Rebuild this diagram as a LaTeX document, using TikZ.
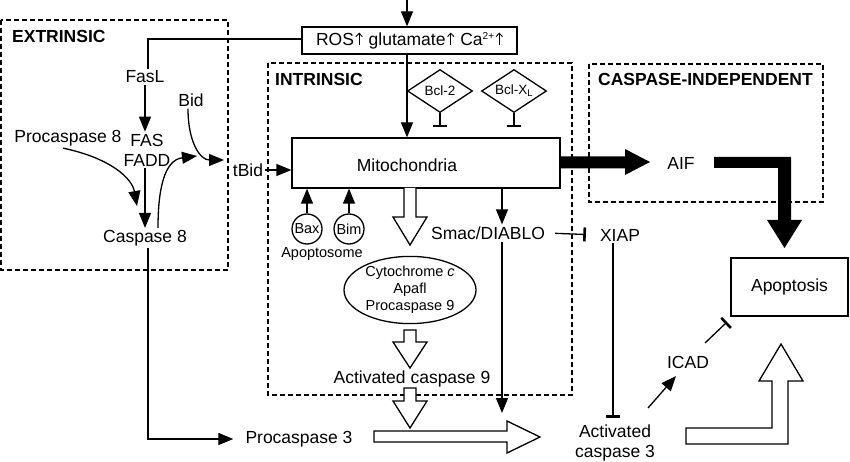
\documentclass[tikz,border=0pt]{standalone}
\usepackage{fontspec}
\setmainfont{Liberation Sans}
\usetikzlibrary{arrows.meta,shapes.geometric}
\newcommand\uparr{\hspace{1.5pt}\tikz[baseline=0pt,x=1pt,y=1pt]\draw[line width=0.9pt,-{Straight Barb[length=3.5pt,width=6.5pt,line width=0.9pt]}] (0,0) -- (0,12.8);\hspace{1pt}}
\begin{document}
\begin{tikzpicture}[x=1pt,y=-1pt,
  every node/.style={font=\fontsize{17.5}{20}\selectfont, inner sep=2pt},
  sm/.style={font=\fontsize{14.5}{17}\selectfont},
  ln/.style={line width=1.3pt},
  arr/.style={ln,-{Triangle[length=15pt,width=12pt]}},
  inh/.style={ln,-{Bar[width=14pt,line width=2.6pt]}},
  dbox/.style={line width=1.2pt, dash pattern=on 5pt off 3pt},
  box/.style={draw, line width=1.3pt, rectangle},
  hollow/.style={draw, line width=1.3pt, fill=white, line join=miter},
  dia/.style={draw, line width=1.3pt, diamond, aspect=1.5, minimum width=65pt, minimum height=43pt, inner sep=0pt, font=\fontsize{13.5}{16}\selectfont},
  circ/.style={draw, line width=1.3pt, circle, minimum size=30pt, inner sep=0pt, sm},
  lab/.style={font=\bfseries\fontsize{17.5}{20}\selectfont, anchor=west}
]
\useasboundingbox (0,0) rectangle (850,462);

% dashed regions
\draw[dbox] (1,20) rectangle (228,270);
\node[lab] (extl) at (10,36) {EXTRINSIC};
\draw[dbox] (268,63) rectangle (572,395);
\node[lab] (intl) at (273,79) {INTRINSIC};
\draw[dbox] (589,64) rectangle (823,202);
\node[lab] (cil) at (596,79) {CASPASE-INDEPENDENT};

% top
\coordinate (top) at (407,0);
\node[box, minimum width=215pt, minimum height=27pt, inner sep=0pt] (ros) at (409.5,40.5) {ROS\uparr{} glutamate\uparr{} Ca{\fontsize{10}{10}\selectfont\raisebox{5.5pt}{2+}}\uparr};
\draw[arr] (top) -- (top |- ros.north);

% extrinsic
\node (fasl) at (145,77) {FasL};
\draw[ln] ([yshift=1.5pt]ros.west) -| ([xshift=3pt]fasl.north);
\node[align=center] (fas) at (147,150) {FAS\\FADD};
\draw[arr] (fasl.south) -- (fasl.south |- fas.north);
\node (casp8) at (145,238) {Caspase 8};
\draw[arr] (fasl.south |- fas.south) -- (casp8.north);
\node (pro8) at (68,138) {Procaspase 8};
\coordinate (p8end) at (137,206);
\draw[arr] ([xshift=-5pt]pro8.south) .. controls (110,158) and (132,178) .. (p8end);
\node (bid) at (191,100) {Bid};
\coordinate (bidend) at (224,160);
\draw[arr] ([xshift=-3pt]bid.south) .. controls (188,142) and (200,160) .. (bidend);
\coordinate (c8end) at (197,156);
\draw[arr] ([xshift=13pt]casp8.north) .. controls (158,190) and (164,160) .. (c8end);
\node (tbid) at (248,170) {tBid};

% mitochondria
\node[box, minimum width=268pt, minimum height=50pt, inner sep=0pt] (mito) at (426,163) {};
\node (mitot) at (407,165) {Mitochondria};
\draw[arr] (tbid.east) -- (tbid.east -| mito.west);
\draw[arr] (ros.south -| top) -- (top |- mito.north);

\node[dia] (bcl2) at (440,91) {Bcl-2};
\node[dia] (bclx) at (514,91) {Bcl-X\textsubscript{L}};
\draw[inh] (bcl2.south) -- ++(0,14);
\draw[inh] (bclx.south) -- ++(0,14);

\node[circ] (bax) at (307,229) {Bax};
\node[circ] (bim) at (349,229) {Bim};
\draw[arr] (bax.north) -- (bax.north |- mito.south);
\draw[arr] (bim.north) -- (bim.north |- mito.south);
\node[sm] (apo) at (322,254) {Apoptosome};

% hollow arrows down
\draw[hollow] (404,188) -- (404,217) -- (393,217) -- (410,245) -- (427,217) -- (416,217) -- (416,188);
\node[draw, ln, ellipse, minimum width=132pt, minimum height=55pt, inner sep=0pt, sm, align=center] (cyto) at (410,290) {Cytochrome \textit{c}\\Apafl\\Procaspase 9};
\draw[hollow] (404,330) -- (404,342) -- (393,342) -- (410,368) -- (427,342) -- (416,342) -- (416,330) -- cycle;
\node (ac9) at (412,379) {Activated caspase 9};
\draw[hollow] (404,388) -- (404,401) -- (393,401) -- (410,428) -- (427,401) -- (416,401) -- (416,388) -- cycle;

% smac / xiap
\node (smac) at (488,233) {Smac/DIABLO};
\draw[arr] ([xshift=14pt]smac.north |- mito.south) -- ([xshift=14pt]smac.north);
\coordinate (smacend) at (502,413);
\draw[arr] ([xshift=14pt]smac.south) -- (smacend);
\node (xiap) at (620,235) {XIAP};
\draw[inh, shorten <=8pt, shorten >=12pt] (smac.east) -- (xiap.west);
\coordinate (xiapend) at (613,418);
\draw[inh] ([xshift=-7pt]xiap.south) -- (xiapend);

% bottom
\node (pro3) at (299,439) {Procaspase 3};
\draw[arr, shorten >=10pt] ([xshift=3pt]casp8.south) |- (pro3.west);
\draw[hollow] (374,431) -- (507,431) -- (507,421) -- (540,437) -- (507,453) -- (507,442) -- (374,442) -- cycle;
\node[align=center] (ac3) at (615,443) {Activated\\caspase 3};
\node (icad) at (688,362) {ICAD};
\coordinate (icadin) at (648,408);
\coordinate (icadtip) at (676,376);
\draw[arr] (icadin) -- (icadtip);
\coordinate (icadout) at (705,343);
\coordinate (icadbar) at (727,322);
\draw[inh] (icadout) -- (icadbar);

% apoptosis
\node[box, minimum width=117pt, minimum height=58pt] (apop) at (789.5,287) {Apoptosis};
\draw[hollow] (686,428) -- (772,428) -- (772,381) -- (759,381) -- (781,344) -- (803,381) -- (788,381) -- (788,444) -- (686,444) -- cycle;

% AIF
\node (aif) at (681,163) {AIF};
\fill (560,156.5) -- (625,156.5) -- (625,149) -- (650,162) -- (625,175) -- (625,168.5) -- (560,168.5) -- cycle;
\fill (714,157) -- (791,157) -- (791,220) -- (802,220) -- (784.5,248) -- (767,220) -- (778,220) -- (778,168) -- (714,168) -- cycle;
\end{tikzpicture}
\end{document}
